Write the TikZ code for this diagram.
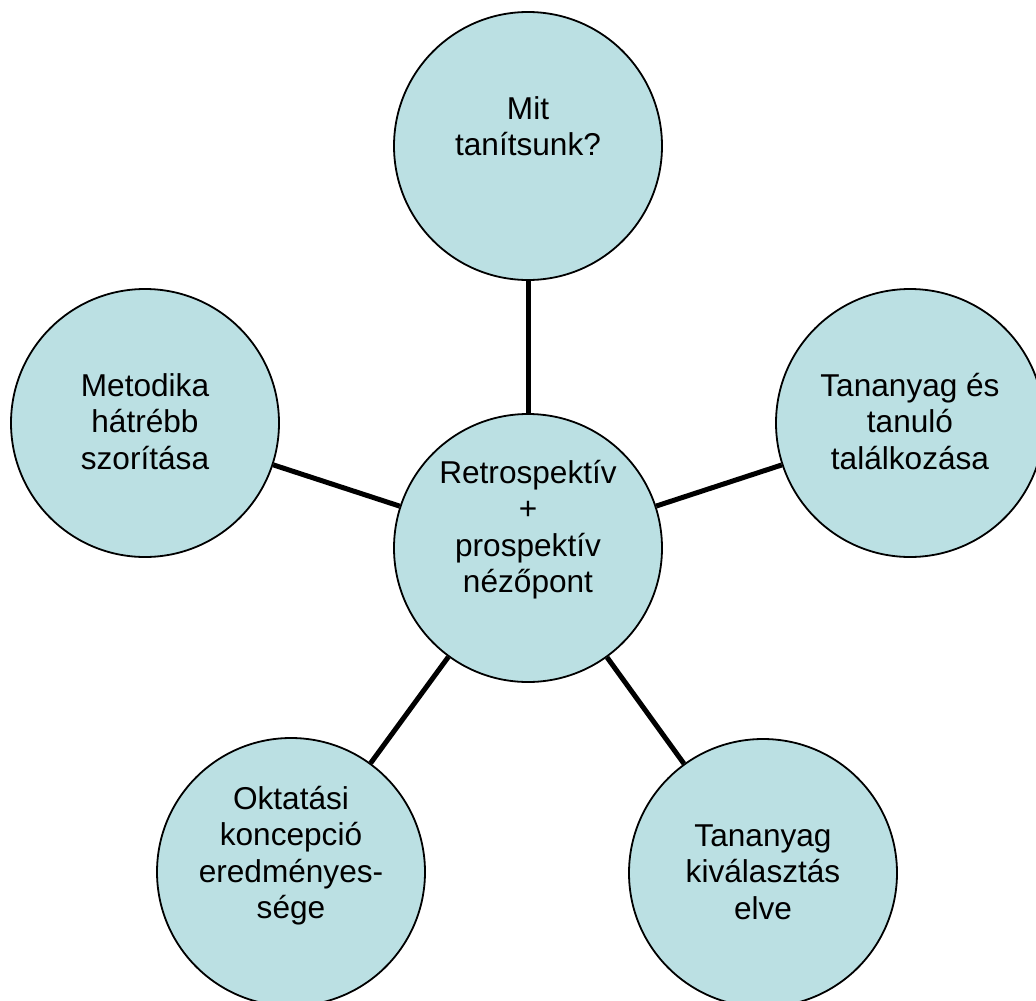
\documentclass[tikz,border=0pt]{standalone}
\usepackage{fontspec}
\setmainfont{Liberation Sans}
\definecolor{bubblefill}{HTML}{BBE0E3}
% fixed-height strut on the first line, so every text block hangs from a known baseline
\newcommand\bubblestrut{\rule{0pt}{26pt}}
\begin{document}
\begin{tikzpicture}[x=1pt,y=-1pt,
  bubble/.style={circle, draw=black, line width=1.8pt, fill=bubblefill,
                 minimum size=268pt, inner sep=0pt},
  bubbletext/.style={anchor=north, inner sep=0pt, align=center,
                     font=\fontsize{31.6}{36.5}\selectfont},
  spoke/.style={line width=5pt}]
\useasboundingbox (0,0) rectangle (1036,1001);

% circles
\node[bubble] (hub)   at (528,548) {};
\node[bubble] (top)   at (528,146) {};
\node[bubble] (right) at (910,423) {};
\node[bubble] (left)  at (145,423) {};
\node[bubble] (bl)    at (291,872) {};
\node[bubble] (br)    at (763,873) {};

% spokes from the hub
\draw[spoke] (hub) -- (top);
\draw[spoke] (hub) -- (right);
\draw[spoke] (hub) -- (left);
\draw[spoke] (hub) -- (bl);
\draw[spoke] (hub) -- (br);

% texts
\node[bubbletext] (hubtext)   at (528,457) {\bubblestrut Retrospektív\\+\\prospektív\\nézőpont};
\node[bubbletext] (toptext)   at (528,93)  {\bubblestrut Mit\\tanítsunk?};
\node[bubbletext] (righttext) at (910,370) {\bubblestrut Tananyag és\\tanuló\\találkozása};
\node[bubbletext] (lefttext)  at (145,370) {\bubblestrut Metodika\\hátrébb\\szorítása};
\node[bubbletext] (bltext)    at (291,783) {\bubblestrut Oktatási\\koncepció\\eredményes-\\sége};
\node[bubbletext] (brtext)    at (763,820) {\bubblestrut Tananyag\\kiválasztás\\elve};
\end{tikzpicture}
\end{document}
